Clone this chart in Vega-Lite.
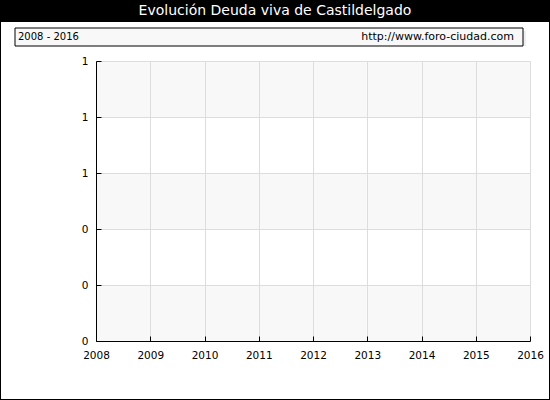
{
  "$schema": "https://vega.github.io/schema/vega-lite/v6.json",
  "description": "Evolución de la deuda viva de Castildelgado, 2008-2016 (sin datos).",
  "background": "white",
  "padding": 0,
  "spacing": 0,
  "config": {
    "view": {"stroke": null},
    "font": "DejaVu Sans",
    "text": {"font": "DejaVu Sans"}
  },
  "vconcat": [
    {
      "width": 550,
      "height": 22,
      "view": {"fill": "black", "stroke": null},
      "data": {"values": [{"titulo": "Evolución Deuda viva de Castildelgado"}]},
      "mark": {"type": "text", "color": "white", "fontSize": 14},
      "encoding": {"text": {"field": "titulo"}}
    },
    {
      "spacing": 0,
      "hconcat": [
        {
          "width": 1,
          "height": 377,
          "view": {"fill": "black", "stroke": null},
          "data": {"values": []},
          "mark": {"type": "rect", "opacity": 0}
        },
        {
          "spacing": 4,
          "vconcat": [
            {
              "width": 548,
              "height": 1,
              "view": {"fill": "white", "stroke": null},
              "data": {"values": []},
              "mark": {"type": "rect", "opacity": 0}
            },
            {
              "spacing": 9,
              "vconcat": [
                {
                  "spacing": 0,
                  "hconcat": [
                    {
                      "width": 13,
                      "height": 18,
                      "view": {"fill": "white", "stroke": null},
                      "data": {"values": []},
                      "mark": {"type": "rect", "opacity": 0}
                    },
                    {
                      "width": 508,
                      "height": 18,
                      "data": {
                        "values": [
                          {"periodo": "2008 - 2016", "web": "http://www.foro-ciudad.com"}
                        ]
                      },
                      "layer": [
                        {
                          "mark": {"type": "rect", "color": "#EEEEEE", "xOffset": 3, "x2Offset": 3, "yOffset": 3, "y2Offset": 3}
                        },
                        {
                          "mark": {"type": "rect", "fill": "#F8F8F8", "stroke": "black", "strokeWidth": 1}
                        },
                        {
                          "mark": {"type": "text", "align": "left", "fontSize": 10, "color": "black", "dx": 3},
                          "encoding": {"x": {"value": 0}, "text": {"field": "periodo"}}
                        },
                        {
                          "mark": {"type": "text", "align": "right", "fontSize": 11, "color": "black", "dx": -9},
                          "encoding": {"x": {"value": "width"}, "text": {"field": "web"}}
                        }
                      ]
                    }
                  ]
                },
                {
                  "spacing": 0,
                  "hconcat": [
                    {
                      "width": 1,
                      "height": 280,
                      "view": {"fill": "white", "stroke": null},
                      "data": {"values": []},
                      "mark": {"type": "rect", "opacity": 0}
                    },
                    {
                      "width": 434,
                      "height": 280,
                      "layer": [
                        {
                          "data": {
                            "values": [
                              {"desde": 0, "hasta": 0.2},
                              {"desde": 0.4, "hasta": 0.6},
                              {"desde": 0.8, "hasta": 1}
                            ]
                          },
                          "mark": {"type": "rect", "color": "#F8F8F8"},
                          "encoding": {
                            "y": {
                              "field": "desde",
                              "type": "quantitative",
                              "scale": {"domain": [0, 1], "nice": false},
                              "axis": {
                                "title": null,
                                "values": [0, 0.1, 0.2, 0.3, 0.4, 0.5, 0.6, 0.7, 0.8, 0.9, 1],
                                "labelExpr": "round(datum.value * 10) % 2 == 0 ? format(datum.value, '.0f') : ''",
                                "labelFontSize": 10.5,
                                "labelColor": "black",
                                "labelPadding": 13,
                                "tickColor": "black",
                                "tickSize": {"condition": {"test": "round(datum.value * 10) % 2 == 0", "value": -5}, "value": -3},
                                "domainColor": "black",
                                "gridColor": "#DDDDDD",
                                "gridOpacity": {"condition": {"test": "round(datum.value * 10) % 2 == 0", "value": 1}, "value": 0},
                                "minExtent": 94,
                                "maxExtent": 94,
                                "zindex": 1
                              }
                            },
                            "y2": {"field": "hasta"}
                          }
                        },
                        {
                          "data": {
                            "values": [
                              {"anio": 2008, "deuda": null},
                              {"anio": 2009, "deuda": null},
                              {"anio": 2010, "deuda": null},
                              {"anio": 2011, "deuda": null},
                              {"anio": 2012, "deuda": null},
                              {"anio": 2013, "deuda": null},
                              {"anio": 2014, "deuda": null},
                              {"anio": 2015, "deuda": null},
                              {"anio": 2016, "deuda": null}
                            ]
                          },
                          "mark": {"type": "line", "color": "#1F4E9E"},
                          "encoding": {
                            "x": {
                              "field": "anio",
                              "type": "quantitative",
                              "scale": {"domain": [2008, 2016], "nice": false, "zero": false},
                              "axis": {
                                "title": null,
                                "values": [2008, 2009, 2010, 2011, 2012, 2013, 2014, 2015, 2016],
                                "format": "d",
                                "labelFontSize": 10.5,
                                "labelColor": "black",
                                "labelPadding": 14,
                                "labelFlush": false,
                                "tickColor": "black",
                                "tickSize": -5,
                                "domainColor": "black",
                                "gridColor": "#DDDDDD",
                                "zindex": 1
                              }
                            },
                            "y": {"field": "deuda", "type": "quantitative"}
                          }
                        }
                      ]
                    }
                  ]
                }
              ]
            }
          ]
        },
        {
          "width": 1,
          "height": 377,
          "view": {"fill": "black", "stroke": null},
          "data": {"values": []},
          "mark": {"type": "rect", "opacity": 0}
        }
      ]
    },
    {
      "width": 550,
      "height": 1,
      "view": {"fill": "black", "stroke": null},
      "data": {"values": []},
      "mark": {"type": "rect", "opacity": 0}
    }
  ]
}
